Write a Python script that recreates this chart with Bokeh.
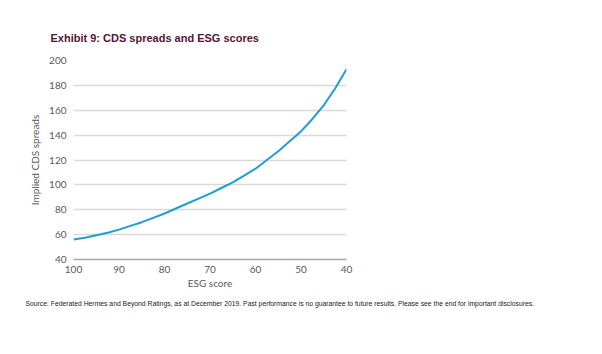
from bokeh.plotting import figure
from bokeh.models import Range1d, Title, FixedTicker
from bokeh.embed import file_html
from bokeh.resources import INLINE

esg_score = [100, 97.5, 95, 92.5, 90, 87.5, 85, 82.5, 80, 77.5, 75, 72.5, 70,
             67.5, 65, 62.5, 60, 57.5, 55, 52.5, 50, 47.5, 45, 42.5, 40]
cds_spread = [56, 57.5, 59.5, 61.5, 64, 67, 70, 73.5, 77, 81, 85, 89, 93,
              97.5, 102, 107.5, 113, 120, 127, 135, 143, 153, 164, 177.5, 193]
y_ticks = [40, 60, 80, 100, 120, 140, 160, 180, 200]
x_ticks = [100, 90, 80, 70, 60, 50, 40]

title_text = "Exhibit 9: CDS spreads and ESG scores"
source_text = ("Source: Federated Hermes and Beyond Ratings, as at December 2019. Past performance is no "
               "guarantee to future results. Please see the end for important disclosures.")

p = figure(width=602, height=354, output_backend="svg", toolbar_location=None,
           x_range=Range1d(100, 40), y_range=Range1d(40, 200),
           min_border_left=73, min_border_right=256, min_border_top=60, min_border_bottom=95)
p.outline_line_color = None
p.background_fill_color = "white"
p.border_fill_color = "white"

p.line(esg_score, cds_spread, line_color="#1d9fd3", line_width=2)

p.xgrid.grid_line_color = None
p.ygrid.grid_line_color = "#d9d9d9"
p.ygrid.grid_line_width = 1.5
p.yaxis.ticker = FixedTicker(ticks=y_ticks)
p.xaxis.ticker = FixedTicker(ticks=x_ticks)

for ax in (p.xaxis[0], p.yaxis[0]):
    ax.major_tick_line_color = None
    ax.minor_tick_line_color = None
    ax.major_label_text_font = "Lato"
    ax.major_label_text_font_size = "10px"
    ax.major_label_text_color = "#595959"
    ax.axis_label_text_font = "Lato"
    ax.axis_label_text_font_size = "10px"
    ax.axis_label_text_color = "#595959"
    ax.axis_label_text_font_style = "normal"

p.yaxis.axis_line_color = None
p.yaxis.major_label_standoff = 1
p.yaxis.axis_label = "Implied CDS spreads"
p.yaxis.axis_label_standoff = 5
p.xaxis.axis_line_color = "#a6a6a6"
p.xaxis.axis_line_width = 1.5
p.xaxis.major_label_standoff = 0
p.xaxis.axis_label = "ESG score"
p.xaxis.axis_label_standoff = 1

p.add_layout(Title(text=title_text, align="left", offset=-23, standoff=33,
                   text_font="Liberation Sans", text_font_size="11px", text_font_style="bold",
                   text_color="#561436"), "above")
p.add_layout(Title(text=source_text, align="left", offset=-48, standoff=12,
                   text_font="Liberation Sans", text_font_size="6.8px", text_font_style="normal",
                   text_color="#222222"), "below")

open("out.html", "w").write(file_html(p, INLINE))
